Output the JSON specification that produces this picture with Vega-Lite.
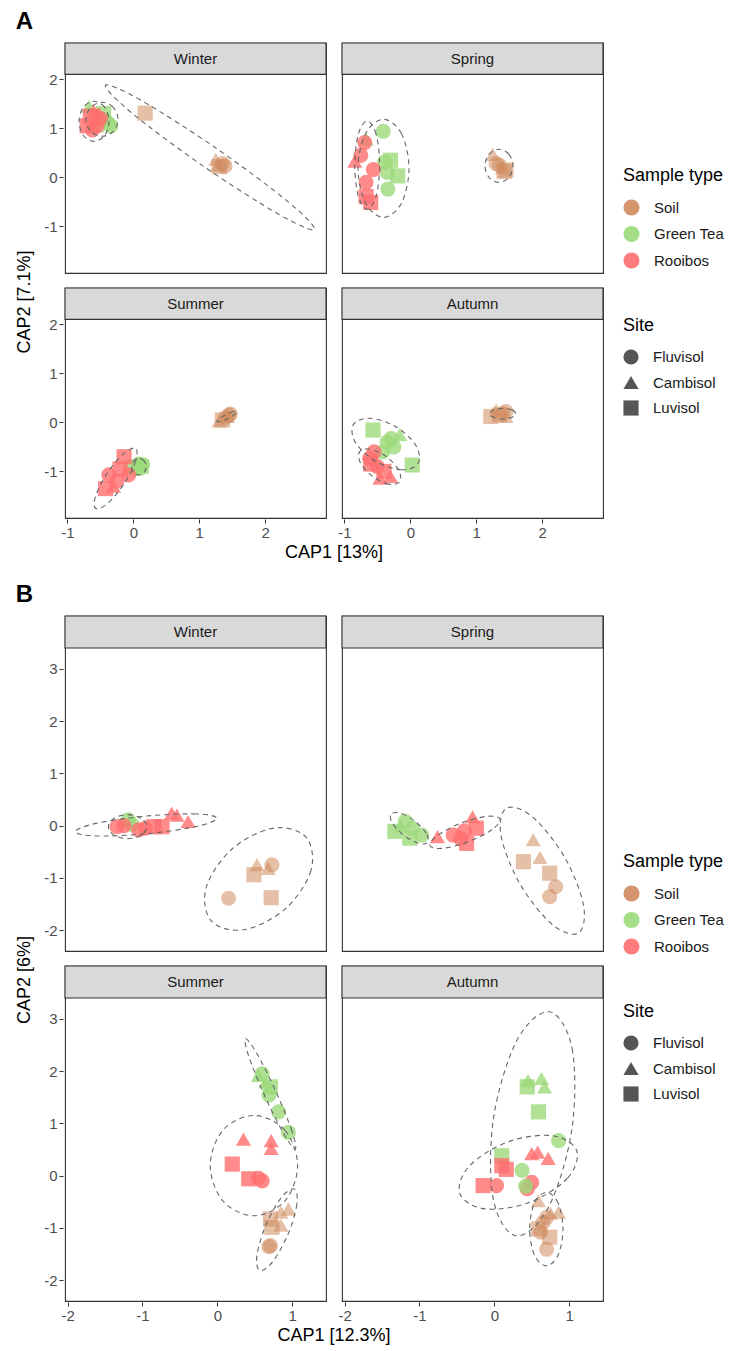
{
"$schema": "https://vega.github.io/schema/vega-lite/v6.json",
"background": "white",
"padding": {"left": 15, "top": 9, "right": 5, "bottom": 4},
"datasets": {
"a": [
{"kind":"strip","season":"Winter"},{"kind":"strip","season":"Spring"},{"kind":"strip","season":"Summer"},{"kind":"strip","season":"Autumn"},
{"kind":"pt","season":"Winter","type":"Soil","site":"Luvisol","x":0.18,"y":1.31},
{"kind":"pt","season":"Winter","type":"Soil","site":"Cambisol","x":1.25,"y":0.37},
{"kind":"pt","season":"Winter","type":"Soil","site":"Cambisol","x":1.28,"y":0.25},
{"kind":"pt","season":"Winter","type":"Soil","site":"Fluvisol","x":1.39,"y":0.23},
{"kind":"pt","season":"Winter","type":"Soil","site":"Fluvisol","x":1.35,"y":0.28},
{"kind":"pt","season":"Winter","type":"Soil","site":"Luvisol","x":1.30,"y":0.22},
{"kind":"pt","season":"Winter","type":"Green Tea","site":"Fluvisol","x":-0.34,"y":1.05},
{"kind":"pt","season":"Winter","type":"Green Tea","site":"Fluvisol","x":-0.44,"y":1.18},
{"kind":"pt","season":"Winter","type":"Green Tea","site":"Cambisol","x":-0.67,"y":1.45},
{"kind":"pt","season":"Winter","type":"Green Tea","site":"Luvisol","x":-0.45,"y":1.3},
{"kind":"pt","season":"Winter","type":"Green Tea","site":"Fluvisol","x":-0.38,"y":1.1},
{"kind":"pt","season":"Winter","type":"Green Tea","site":"Cambisol","x":-0.55,"y":1.05},
{"kind":"pt","season":"Winter","type":"Rooibos","site":"Fluvisol","x":-0.62,"y":0.97},
{"kind":"pt","season":"Winter","type":"Rooibos","site":"Fluvisol","x":-0.50,"y":1.2},
{"kind":"pt","season":"Winter","type":"Rooibos","site":"Luvisol","x":-0.65,"y":1.25},
{"kind":"pt","season":"Winter","type":"Rooibos","site":"Cambisol","x":-0.6,"y":1.35},
{"kind":"pt","season":"Winter","type":"Rooibos","site":"Luvisol","x":-0.7,"y":1.05},
{"kind":"pt","season":"Winter","type":"Rooibos","site":"Fluvisol","x":-0.55,"y":1.05},
{"kind":"pt","season":"Winter","type":"Rooibos","site":"Cambisol","x":-0.52,"y":1.3},
{"kind":"pt","season":"Spring","type":"Soil","site":"Cambisol","x":1.25,"y":0.47},
{"kind":"pt","season":"Spring","type":"Soil","site":"Fluvisol","x":1.35,"y":0.25},
{"kind":"pt","season":"Spring","type":"Soil","site":"Luvisol","x":1.45,"y":0.15},
{"kind":"pt","season":"Spring","type":"Soil","site":"Fluvisol","x":1.3,"y":0.28},
{"kind":"pt","season":"Spring","type":"Soil","site":"Cambisol","x":1.4,"y":0.2},
{"kind":"pt","season":"Spring","type":"Soil","site":"Luvisol","x":1.42,"y":0.12},
{"kind":"pt","season":"Spring","type":"Green Tea","site":"Fluvisol","x":-0.41,"y":0.94},
{"kind":"pt","season":"Spring","type":"Green Tea","site":"Fluvisol","x":-0.39,"y":0.31},
{"kind":"pt","season":"Spring","type":"Green Tea","site":"Fluvisol","x":-0.34,"y":-0.24},
{"kind":"pt","season":"Spring","type":"Green Tea","site":"Luvisol","x":-0.19,"y":0.03},
{"kind":"pt","season":"Spring","type":"Green Tea","site":"Cambisol","x":-0.67,"y":0.78},
{"kind":"pt","season":"Spring","type":"Green Tea","site":"Fluvisol","x":-0.35,"y":0.1},
{"kind":"pt","season":"Spring","type":"Green Tea","site":"Luvisol","x":-0.3,"y":0.35},
{"kind":"pt","season":"Spring","type":"Rooibos","site":"Fluvisol","x":-0.69,"y":0.71},
{"kind":"pt","season":"Spring","type":"Rooibos","site":"Cambisol","x":-0.84,"y":0.33},
{"kind":"pt","season":"Spring","type":"Rooibos","site":"Fluvisol","x":-0.56,"y":0.16},
{"kind":"pt","season":"Spring","type":"Rooibos","site":"Fluvisol","x":-0.67,"y":-0.1},
{"kind":"pt","season":"Spring","type":"Rooibos","site":"Luvisol","x":-0.67,"y":-0.39},
{"kind":"pt","season":"Spring","type":"Rooibos","site":"Luvisol","x":-0.6,"y":-0.51},
{"kind":"pt","season":"Spring","type":"Rooibos","site":"Fluvisol","x":-0.75,"y":0.45},
{"kind":"pt","season":"Summer","type":"Soil","site":"Fluvisol","x":1.47,"y":0.17},
{"kind":"pt","season":"Summer","type":"Soil","site":"Fluvisol","x":1.45,"y":0.15},
{"kind":"pt","season":"Summer","type":"Soil","site":"Cambisol","x":1.3,"y":0.03},
{"kind":"pt","season":"Summer","type":"Soil","site":"Luvisol","x":1.35,"y":0.05},
{"kind":"pt","season":"Summer","type":"Soil","site":"Fluvisol","x":1.4,"y":0.1},
{"kind":"pt","season":"Summer","type":"Soil","site":"Cambisol","x":1.43,"y":0.12},
{"kind":"pt","season":"Summer","type":"Green Tea","site":"Fluvisol","x":0.14,"y":-0.86},
{"kind":"pt","season":"Summer","type":"Green Tea","site":"Fluvisol","x":-0.04,"y":-0.9},
{"kind":"pt","season":"Summer","type":"Green Tea","site":"Fluvisol","x":0.08,"y":-0.85},
{"kind":"pt","season":"Summer","type":"Green Tea","site":"Cambisol","x":0.05,"y":-0.95},
{"kind":"pt","season":"Summer","type":"Green Tea","site":"Luvisol","x":0.12,"y":-0.9},
{"kind":"pt","season":"Summer","type":"Rooibos","site":"Luvisol","x":-0.14,"y":-0.7},
{"kind":"pt","season":"Summer","type":"Rooibos","site":"Fluvisol","x":-0.37,"y":-1.07},
{"kind":"pt","season":"Summer","type":"Rooibos","site":"Luvisol","x":-0.42,"y":-1.35},
{"kind":"pt","season":"Summer","type":"Rooibos","site":"Fluvisol","x":-0.07,"y":-1.07},
{"kind":"pt","season":"Summer","type":"Rooibos","site":"Fluvisol","x":-0.25,"y":-1.2},
{"kind":"pt","season":"Summer","type":"Rooibos","site":"Cambisol","x":-0.3,"y":-1.3},
{"kind":"pt","season":"Summer","type":"Rooibos","site":"Luvisol","x":-0.2,"y":-0.95},
{"kind":"pt","season":"Autumn","type":"Soil","site":"Luvisol","x":1.22,"y":0.12},
{"kind":"pt","season":"Autumn","type":"Soil","site":"Fluvisol","x":1.45,"y":0.22},
{"kind":"pt","season":"Autumn","type":"Soil","site":"Cambisol","x":1.3,"y":0.25},
{"kind":"pt","season":"Autumn","type":"Soil","site":"Fluvisol","x":1.4,"y":0.18},
{"kind":"pt","season":"Autumn","type":"Soil","site":"Luvisol","x":1.35,"y":0.15},
{"kind":"pt","season":"Autumn","type":"Soil","site":"Cambisol","x":1.45,"y":0.12},
{"kind":"pt","season":"Autumn","type":"Green Tea","site":"Luvisol","x":-0.565,"y":-0.156},
{"kind":"pt","season":"Autumn","type":"Green Tea","site":"Fluvisol","x":-0.29,"y":-0.33},
{"kind":"pt","season":"Autumn","type":"Green Tea","site":"Fluvisol","x":-0.42,"y":-0.6},
{"kind":"pt","season":"Autumn","type":"Green Tea","site":"Cambisol","x":-0.16,"y":-0.25},
{"kind":"pt","season":"Autumn","type":"Green Tea","site":"Fluvisol","x":-0.25,"y":-0.5},
{"kind":"pt","season":"Autumn","type":"Green Tea","site":"Luvisol","x":0.03,"y":-0.87},
{"kind":"pt","season":"Autumn","type":"Green Tea","site":"Fluvisol","x":-0.35,"y":-0.4},
{"kind":"pt","season":"Autumn","type":"Rooibos","site":"Fluvisol","x":-0.615,"y":-0.735},
{"kind":"pt","season":"Autumn","type":"Rooibos","site":"Cambisol","x":-0.46,"y":-1.14},
{"kind":"pt","season":"Autumn","type":"Rooibos","site":"Fluvisol","x":-0.5,"y":-0.9},
{"kind":"pt","season":"Autumn","type":"Rooibos","site":"Luvisol","x":-0.4,"y":-1.0},
{"kind":"pt","season":"Autumn","type":"Rooibos","site":"Fluvisol","x":-0.55,"y":-0.6},
{"kind":"pt","season":"Autumn","type":"Rooibos","site":"Cambisol","x":-0.3,"y":-1.1},
{"kind":"pt","season":"Autumn","type":"Rooibos","site":"Luvisol","x":-0.6,"y":-0.85},
{"kind":"ell","season":"Winter","type":"Soil","i":0,"x":2.745,"y":-1.061},
{"kind":"ell","season":"Winter","type":"Soil","i":1,"x":2.215,"y":-0.762},
{"kind":"ell","season":"Winter","type":"Soil","i":2,"x":1.068,"y":0.222},
{"kind":"ell","season":"Winter","type":"Soil","i":3,"x":-0.024,"y":1.315},
{"kind":"ell","season":"Winter","type":"Soil","i":4,"x":-0.421,"y":1.877},
{"kind":"ell","season":"Winter","type":"Soil","i":5,"x":0.109,"y":1.578},
{"kind":"ell","season":"Winter","type":"Soil","i":6,"x":1.256,"y":0.594},
{"kind":"ell","season":"Winter","type":"Soil","i":7,"x":2.348,"y":-0.499},
{"kind":"ell","season":"Winter","type":"Rooibos","i":0,"x":-0.368,"y":1.143},
{"kind":"ell","season":"Winter","type":"Rooibos","i":1,"x":-0.434,"y":1.432},
{"kind":"ell","season":"Winter","type":"Rooibos","i":2,"x":-0.595,"y":1.551},
{"kind":"ell","season":"Winter","type":"Rooibos","i":3,"x":-0.756,"y":1.432},
{"kind":"ell","season":"Winter","type":"Rooibos","i":4,"x":-0.822,"y":1.143},
{"kind":"ell","season":"Winter","type":"Rooibos","i":5,"x":-0.756,"y":0.854},
{"kind":"ell","season":"Winter","type":"Rooibos","i":6,"x":-0.595,"y":0.735},
{"kind":"ell","season":"Winter","type":"Rooibos","i":7,"x":-0.434,"y":0.854},
{"kind":"ell","season":"Winter","type":"Green Tea","i":0,"x":-0.232,"y":1.184},
{"kind":"ell","season":"Winter","type":"Green Tea","i":1,"x":-0.303,"y":1.429},
{"kind":"ell","season":"Winter","type":"Green Tea","i":2,"x":-0.474,"y":1.531},
{"kind":"ell","season":"Winter","type":"Green Tea","i":3,"x":-0.645,"y":1.429},
{"kind":"ell","season":"Winter","type":"Green Tea","i":4,"x":-0.716,"y":1.184},
{"kind":"ell","season":"Winter","type":"Green Tea","i":5,"x":-0.645,"y":0.939},
{"kind":"ell","season":"Winter","type":"Green Tea","i":6,"x":-0.474,"y":0.837},
{"kind":"ell","season":"Winter","type":"Green Tea","i":7,"x":-0.303,"y":0.939},
{"kind":"ell","season":"Spring","type":"Soil","i":0,"x":1.555,"y":0.235},
{"kind":"ell","season":"Spring","type":"Soil","i":1,"x":1.493,"y":0.473},
{"kind":"ell","season":"Spring","type":"Soil","i":2,"x":1.343,"y":0.572},
{"kind":"ell","season":"Spring","type":"Soil","i":3,"x":1.193,"y":0.473},
{"kind":"ell","season":"Spring","type":"Soil","i":4,"x":1.131,"y":0.235},
{"kind":"ell","season":"Spring","type":"Soil","i":5,"x":1.193,"y":-0.003},
{"kind":"ell","season":"Spring","type":"Soil","i":6,"x":1.343,"y":-0.102},
{"kind":"ell","season":"Spring","type":"Soil","i":7,"x":1.493,"y":-0.003},
{"kind":"ell","season":"Spring","type":"Green Tea","i":0,"x":-0.020,"y":0.184},
{"kind":"ell","season":"Spring","type":"Green Tea","i":1,"x":-0.133,"y":0.891},
{"kind":"ell","season":"Spring","type":"Green Tea","i":2,"x":-0.406,"y":1.184},
{"kind":"ell","season":"Spring","type":"Green Tea","i":3,"x":-0.679,"y":0.891},
{"kind":"ell","season":"Spring","type":"Green Tea","i":4,"x":-0.792,"y":0.184},
{"kind":"ell","season":"Spring","type":"Green Tea","i":5,"x":-0.679,"y":-0.523},
{"kind":"ell","season":"Spring","type":"Green Tea","i":6,"x":-0.406,"y":-0.816},
{"kind":"ell","season":"Spring","type":"Green Tea","i":7,"x":-0.133,"y":-0.523},
{"kind":"ell","season":"Spring","type":"Rooibos","i":0,"x":-0.464,"y":0.249},
{"kind":"ell","season":"Spring","type":"Rooibos","i":1,"x":-0.519,"y":0.884},
{"kind":"ell","season":"Spring","type":"Rooibos","i":2,"x":-0.653,"y":1.147},
{"kind":"ell","season":"Spring","type":"Rooibos","i":3,"x":-0.787,"y":0.884},
{"kind":"ell","season":"Spring","type":"Rooibos","i":4,"x":-0.842,"y":0.249},
{"kind":"ell","season":"Spring","type":"Rooibos","i":5,"x":-0.787,"y":-0.386},
{"kind":"ell","season":"Spring","type":"Rooibos","i":6,"x":-0.653,"y":-0.649},
{"kind":"ell","season":"Spring","type":"Rooibos","i":7,"x":-0.519,"y":-0.386},
{"kind":"ell","season":"Summer","type":"Soil","i":0,"x":1.572,"y":0.222},
{"kind":"ell","season":"Summer","type":"Soil","i":1,"x":1.517,"y":0.221},
{"kind":"ell","season":"Summer","type":"Soil","i":2,"x":1.405,"y":0.161},
{"kind":"ell","season":"Summer","type":"Soil","i":3,"x":1.302,"y":0.077},
{"kind":"ell","season":"Summer","type":"Soil","i":4,"x":1.268,"y":0.018},
{"kind":"ell","season":"Summer","type":"Soil","i":5,"x":1.323,"y":0.019},
{"kind":"ell","season":"Summer","type":"Soil","i":6,"x":1.435,"y":0.079},
{"kind":"ell","season":"Summer","type":"Soil","i":7,"x":1.538,"y":0.163},
{"kind":"ell","season":"Summer","type":"Green Tea","i":0,"x":0.196,"y":-0.904},
{"kind":"ell","season":"Summer","type":"Green Tea","i":1,"x":0.164,"y":-0.784},
{"kind":"ell","season":"Summer","type":"Green Tea","i":2,"x":0.086,"y":-0.734},
{"kind":"ell","season":"Summer","type":"Green Tea","i":3,"x":0.008,"y":-0.784},
{"kind":"ell","season":"Summer","type":"Green Tea","i":4,"x":-0.024,"y":-0.904},
{"kind":"ell","season":"Summer","type":"Green Tea","i":5,"x":0.008,"y":-1.024},
{"kind":"ell","season":"Summer","type":"Green Tea","i":6,"x":0.086,"y":-1.074},
{"kind":"ell","season":"Summer","type":"Green Tea","i":7,"x":0.164,"y":-1.024},
{"kind":"ell","season":"Summer","type":"Rooibos","i":0,"x":0.036,"y":-0.531},
{"kind":"ell","season":"Summer","type":"Rooibos","i":1,"x":0.036,"y":-0.789},
{"kind":"ell","season":"Summer","type":"Rooibos","i":2,"x":-0.141,"y":-1.255},
{"kind":"ell","season":"Summer","type":"Rooibos","i":3,"x":-0.392,"y":-1.655},
{"kind":"ell","season":"Summer","type":"Rooibos","i":4,"x":-0.570,"y":-1.755},
{"kind":"ell","season":"Summer","type":"Rooibos","i":5,"x":-0.570,"y":-1.497},
{"kind":"ell","season":"Summer","type":"Rooibos","i":6,"x":-0.393,"y":-1.031},
{"kind":"ell","season":"Summer","type":"Rooibos","i":7,"x":-0.142,"y":-0.631},
{"kind":"ell","season":"Autumn","type":"Soil","i":0,"x":1.597,"y":0.178},
{"kind":"ell","season":"Autumn","type":"Soil","i":1,"x":1.539,"y":0.254},
{"kind":"ell","season":"Autumn","type":"Soil","i":2,"x":1.4,"y":0.286},
{"kind":"ell","season":"Autumn","type":"Soil","i":3,"x":1.261,"y":0.254},
{"kind":"ell","season":"Autumn","type":"Soil","i":4,"x":1.203,"y":0.178},
{"kind":"ell","season":"Autumn","type":"Soil","i":5,"x":1.261,"y":0.102},
{"kind":"ell","season":"Autumn","type":"Soil","i":6,"x":1.4,"y":0.07},
{"kind":"ell","season":"Autumn","type":"Soil","i":7,"x":1.539,"y":0.102},
{"kind":"ell","season":"Autumn","type":"Green Tea","i":0,"x":0.119,"y":-0.833},
{"kind":"ell","season":"Autumn","type":"Green Tea","i":1,"x":-0.135,"y":-0.966},
{"kind":"ell","season":"Autumn","type":"Green Tea","i":2,"x":-0.528,"y":-0.792},
{"kind":"ell","season":"Autumn","type":"Green Tea","i":3,"x":-0.830,"y":-0.412},
{"kind":"ell","season":"Autumn","type":"Green Tea","i":4,"x":-0.865,"y":-0.049},
{"kind":"ell","season":"Autumn","type":"Green Tea","i":5,"x":-0.611,"y":0.084},
{"kind":"ell","season":"Autumn","type":"Green Tea","i":6,"x":-0.218,"y":-0.090},
{"kind":"ell","season":"Autumn","type":"Green Tea","i":7,"x":0.084,"y":-0.470},
{"kind":"ell","season":"Autumn","type":"Rooibos","i":0,"x":-0.161,"y":-1.210},
{"kind":"ell","season":"Autumn","type":"Rooibos","i":1,"x":-0.327,"y":-1.259},
{"kind":"ell","season":"Autumn","type":"Rooibos","i":2,"x":-0.573,"y":-1.100},
{"kind":"ell","season":"Autumn","type":"Rooibos","i":3,"x":-0.755,"y":-0.826},
{"kind":"ell","season":"Autumn","type":"Rooibos","i":4,"x":-0.767,"y":-0.598},
{"kind":"ell","season":"Autumn","type":"Rooibos","i":5,"x":-0.601,"y":-0.549},
{"kind":"ell","season":"Autumn","type":"Rooibos","i":6,"x":-0.355,"y":-0.708},
{"kind":"ell","season":"Autumn","type":"Rooibos","i":7,"x":-0.173,"y":-0.982}
],
"b": [
{"kind":"strip","season":"Winter"},{"kind":"strip","season":"Spring"},{"kind":"strip","season":"Summer"},{"kind":"strip","season":"Autumn"},
{"kind":"pt","season":"Winter","type":"Soil","site":"Fluvisol","x":0.73,"y":-0.75},
{"kind":"pt","season":"Winter","type":"Soil","site":"Cambisol","x":0.53,"y":-0.75},
{"kind":"pt","season":"Winter","type":"Soil","site":"Cambisol","x":0.68,"y":-0.82},
{"kind":"pt","season":"Winter","type":"Soil","site":"Luvisol","x":0.49,"y":-0.94},
{"kind":"pt","season":"Winter","type":"Soil","site":"Fluvisol","x":0.15,"y":-1.39},
{"kind":"pt","season":"Winter","type":"Soil","site":"Luvisol","x":0.72,"y":-1.38},
{"kind":"pt","season":"Winter","type":"Green Tea","site":"Fluvisol","x":-1.19,"y":0.11},
{"kind":"pt","season":"Winter","type":"Green Tea","site":"Fluvisol","x":-1.14,"y":0.02},
{"kind":"pt","season":"Winter","type":"Rooibos","site":"Fluvisol","x":-1.34,"y":-0.02},
{"kind":"pt","season":"Winter","type":"Rooibos","site":"Fluvisol","x":-0.96,"y":-0.05},
{"kind":"pt","season":"Winter","type":"Rooibos","site":"Luvisol","x":-0.74,"y":-0.02},
{"kind":"pt","season":"Winter","type":"Rooibos","site":"Cambisol","x":-0.61,"y":0.24},
{"kind":"pt","season":"Winter","type":"Rooibos","site":"Cambisol","x":-0.54,"y":0.2},
{"kind":"pt","season":"Winter","type":"Rooibos","site":"Cambisol","x":-0.39,"y":0.08},
{"kind":"pt","season":"Winter","type":"Rooibos","site":"Fluvisol","x":-1.25,"y":0.0},
{"kind":"pt","season":"Winter","type":"Rooibos","site":"Fluvisol","x":-1.05,"y":-0.08},
{"kind":"pt","season":"Winter","type":"Rooibos","site":"Luvisol","x":-0.85,"y":-0.02},
{"kind":"pt","season":"Spring","type":"Soil","site":"Cambisol","x":0.52,"y":-0.27},
{"kind":"pt","season":"Spring","type":"Soil","site":"Cambisol","x":0.61,"y":-0.61},
{"kind":"pt","season":"Spring","type":"Soil","site":"Luvisol","x":0.39,"y":-0.69},
{"kind":"pt","season":"Spring","type":"Soil","site":"Luvisol","x":0.74,"y":-0.91},
{"kind":"pt","season":"Spring","type":"Soil","site":"Fluvisol","x":0.82,"y":-1.17},
{"kind":"pt","season":"Spring","type":"Soil","site":"Fluvisol","x":0.74,"y":-1.36},
{"kind":"pt","season":"Spring","type":"Green Tea","site":"Luvisol","x":-1.33,"y":-0.11},
{"kind":"pt","season":"Spring","type":"Green Tea","site":"Fluvisol","x":-1.19,"y":0.08},
{"kind":"pt","season":"Spring","type":"Green Tea","site":"Fluvisol","x":-1.1,"y":-0.05},
{"kind":"pt","season":"Spring","type":"Green Tea","site":"Cambisol","x":-1.25,"y":0.0},
{"kind":"pt","season":"Spring","type":"Green Tea","site":"Luvisol","x":-1.13,"y":-0.24},
{"kind":"pt","season":"Spring","type":"Green Tea","site":"Fluvisol","x":-0.97,"y":-0.18},
{"kind":"pt","season":"Spring","type":"Rooibos","site":"Cambisol","x":-0.76,"y":-0.21},
{"kind":"pt","season":"Spring","type":"Rooibos","site":"Fluvisol","x":-0.55,"y":-0.18},
{"kind":"pt","season":"Spring","type":"Rooibos","site":"Fluvisol","x":-0.45,"y":-0.25},
{"kind":"pt","season":"Spring","type":"Rooibos","site":"Luvisol","x":-0.24,"y":-0.05},
{"kind":"pt","season":"Spring","type":"Rooibos","site":"Cambisol","x":-0.29,"y":0.17},
{"kind":"pt","season":"Spring","type":"Rooibos","site":"Luvisol","x":-0.37,"y":-0.34},
{"kind":"pt","season":"Spring","type":"Rooibos","site":"Fluvisol","x":-0.4,"y":-0.1},
{"kind":"pt","season":"Summer","type":"Soil","site":"Cambisol","x":0.95,"y":-0.64},
{"kind":"pt","season":"Summer","type":"Soil","site":"Cambisol","x":0.85,"y":-0.7},
{"kind":"pt","season":"Summer","type":"Soil","site":"Luvisol","x":0.71,"y":-0.83},
{"kind":"pt","season":"Summer","type":"Soil","site":"Luvisol","x":0.73,"y":-0.99},
{"kind":"pt","season":"Summer","type":"Soil","site":"Cambisol","x":0.85,"y":-0.95},
{"kind":"pt","season":"Summer","type":"Soil","site":"Fluvisol","x":0.71,"y":-1.34},
{"kind":"pt","season":"Summer","type":"Soil","site":"Fluvisol","x":0.69,"y":-1.36},
{"kind":"pt","season":"Summer","type":"Green Tea","site":"Cambisol","x":0.55,"y":1.92},
{"kind":"pt","season":"Summer","type":"Green Tea","site":"Fluvisol","x":0.6,"y":1.95},
{"kind":"pt","season":"Summer","type":"Green Tea","site":"Cambisol","x":0.65,"y":1.8},
{"kind":"pt","season":"Summer","type":"Green Tea","site":"Luvisol","x":0.71,"y":1.7},
{"kind":"pt","season":"Summer","type":"Green Tea","site":"Fluvisol","x":0.69,"y":1.54},
{"kind":"pt","season":"Summer","type":"Green Tea","site":"Fluvisol","x":0.82,"y":1.22},
{"kind":"pt","season":"Summer","type":"Green Tea","site":"Fluvisol","x":0.95,"y":0.83},
{"kind":"pt","season":"Summer","type":"Rooibos","site":"Cambisol","x":0.35,"y":0.7},
{"kind":"pt","season":"Summer","type":"Rooibos","site":"Cambisol","x":0.72,"y":0.67},
{"kind":"pt","season":"Summer","type":"Rooibos","site":"Cambisol","x":0.72,"y":0.52},
{"kind":"pt","season":"Summer","type":"Rooibos","site":"Luvisol","x":0.2,"y":0.22},
{"kind":"pt","season":"Summer","type":"Rooibos","site":"Luvisol","x":0.42,"y":-0.06},
{"kind":"pt","season":"Summer","type":"Rooibos","site":"Fluvisol","x":0.6,"y":-0.1},
{"kind":"pt","season":"Summer","type":"Rooibos","site":"Fluvisol","x":0.55,"y":-0.05},
{"kind":"pt","season":"Autumn","type":"Soil","site":"Cambisol","x":0.59,"y":-0.48},
{"kind":"pt","season":"Autumn","type":"Soil","site":"Cambisol","x":0.86,"y":-0.7},
{"kind":"pt","season":"Autumn","type":"Soil","site":"Fluvisol","x":0.7,"y":-0.8},
{"kind":"pt","season":"Autumn","type":"Soil","site":"Cambisol","x":0.75,"y":-0.72},
{"kind":"pt","season":"Autumn","type":"Soil","site":"Luvisol","x":0.59,"y":-1.02},
{"kind":"pt","season":"Autumn","type":"Soil","site":"Luvisol","x":0.74,"y":-1.18},
{"kind":"pt","season":"Autumn","type":"Soil","site":"Fluvisol","x":0.7,"y":-1.41},
{"kind":"pt","season":"Autumn","type":"Soil","site":"Fluvisol","x":0.62,"y":-1.08},
{"kind":"pt","season":"Autumn","type":"Soil","site":"Fluvisol","x":0.65,"y":-0.9},
{"kind":"pt","season":"Autumn","type":"Green Tea","site":"Cambisol","x":0.45,"y":1.82},
{"kind":"pt","season":"Autumn","type":"Green Tea","site":"Cambisol","x":0.63,"y":1.86},
{"kind":"pt","season":"Autumn","type":"Green Tea","site":"Cambisol","x":0.67,"y":1.7},
{"kind":"pt","season":"Autumn","type":"Green Tea","site":"Luvisol","x":0.44,"y":1.7},
{"kind":"pt","season":"Autumn","type":"Green Tea","site":"Luvisol","x":0.59,"y":1.22},
{"kind":"pt","season":"Autumn","type":"Green Tea","site":"Fluvisol","x":0.86,"y":0.67},
{"kind":"pt","season":"Autumn","type":"Green Tea","site":"Luvisol","x":0.1,"y":0.38},
{"kind":"pt","season":"Autumn","type":"Rooibos","site":"Cambisol","x":0.5,"y":0.42},
{"kind":"pt","season":"Autumn","type":"Rooibos","site":"Cambisol","x":0.58,"y":0.45},
{"kind":"pt","season":"Autumn","type":"Rooibos","site":"Cambisol","x":0.72,"y":0.33},
{"kind":"pt","season":"Autumn","type":"Rooibos","site":"Luvisol","x":0.1,"y":0.19},
{"kind":"pt","season":"Autumn","type":"Rooibos","site":"Luvisol","x":0.16,"y":0.12},
{"kind":"pt","season":"Autumn","type":"Rooibos","site":"Luvisol","x":-0.15,"y":-0.19},
{"kind":"pt","season":"Autumn","type":"Rooibos","site":"Fluvisol","x":0.03,"y":-0.19},
{"kind":"pt","season":"Autumn","type":"Rooibos","site":"Fluvisol","x":0.5,"y":-0.13},
{"kind":"pt","season":"Autumn","type":"Rooibos","site":"Fluvisol","x":0.44,"y":-0.25},
{"kind":"pt","season":"Autumn","type":"Green Tea","site":"Fluvisol","x":0.37,"y":0.1},
{"kind":"pt","season":"Autumn","type":"Green Tea","site":"Fluvisol","x":0.42,"y":-0.2},
{"kind":"ell","season":"Winter","type":"Rooibos","i":0,"x":-0.005,"y":0.141},
{"kind":"ell","season":"Winter","type":"Rooibos","i":1,"x":-0.282,"y":0.224},
{"kind":"ell","season":"Winter","type":"Rooibos","i":2,"x":-0.952,"y":0.183},
{"kind":"ell","season":"Winter","type":"Rooibos","i":3,"x":-1.622,"y":0.043},
{"kind":"ell","season":"Winter","type":"Rooibos","i":4,"x":-1.899,"y":-0.115},
{"kind":"ell","season":"Winter","type":"Rooibos","i":5,"x":-1.622,"y":-0.198},
{"kind":"ell","season":"Winter","type":"Rooibos","i":6,"x":-0.952,"y":-0.157},
{"kind":"ell","season":"Winter","type":"Rooibos","i":7,"x":-0.282,"y":-0.017},
{"kind":"ell","season":"Winter","type":"Green Tea","i":0,"x":-0.944,"y":-0.02},
{"kind":"ell","season":"Winter","type":"Green Tea","i":1,"x":-1.019,"y":0.143},
{"kind":"ell","season":"Winter","type":"Green Tea","i":2,"x":-1.2,"y":0.21},
{"kind":"ell","season":"Winter","type":"Green Tea","i":3,"x":-1.381,"y":0.143},
{"kind":"ell","season":"Winter","type":"Green Tea","i":4,"x":-1.456,"y":-0.02},
{"kind":"ell","season":"Winter","type":"Green Tea","i":5,"x":-1.381,"y":-0.183},
{"kind":"ell","season":"Winter","type":"Green Tea","i":6,"x":-1.2,"y":-0.25},
{"kind":"ell","season":"Winter","type":"Green Tea","i":7,"x":-1.019,"y":-0.183},
{"kind":"ell","season":"Winter","type":"Soil","i":0,"x":1.187,"y":-0.222},
{"kind":"ell","season":"Winter","type":"Soil","i":1,"x":1.251,"y":-0.864},
{"kind":"ell","season":"Winter","type":"Soil","i":2,"x":0.905,"y":-1.598},
{"kind":"ell","season":"Winter","type":"Soil","i":3,"x":0.353,"y":-1.994},
{"kind":"ell","season":"Winter","type":"Soil","i":4,"x":-0.083,"y":-1.82},
{"kind":"ell","season":"Winter","type":"Soil","i":5,"x":-0.147,"y":-1.178},
{"kind":"ell","season":"Winter","type":"Soil","i":6,"x":0.199,"y":-0.444},
{"kind":"ell","season":"Winter","type":"Soil","i":7,"x":0.751,"y":-0.048},
{"kind":"ell","season":"Spring","type":"Green Tea","i":0,"x":-0.891,"y":-0.322},
{"kind":"ell","season":"Spring","type":"Green Tea","i":1,"x":-0.91,"y":-0.146},
{"kind":"ell","season":"Spring","type":"Green Tea","i":2,"x":-1.062,"y":0.086},
{"kind":"ell","season":"Spring","type":"Green Tea","i":3,"x":-1.257,"y":0.238},
{"kind":"ell","season":"Spring","type":"Green Tea","i":4,"x":-1.381,"y":0.222},
{"kind":"ell","season":"Spring","type":"Green Tea","i":5,"x":-1.362,"y":0.046},
{"kind":"ell","season":"Spring","type":"Green Tea","i":6,"x":-1.21,"y":-0.186},
{"kind":"ell","season":"Spring","type":"Green Tea","i":7,"x":-1.015,"y":-0.338},
{"kind":"ell","season":"Spring","type":"Rooibos","i":0,"x":0.076,"y":0.127},
{"kind":"ell","season":"Spring","type":"Rooibos","i":1,"x":-0.028,"y":-0.074},
{"kind":"ell","season":"Spring","type":"Rooibos","i":2,"x":-0.345,"y":-0.307},
{"kind":"ell","season":"Spring","type":"Rooibos","i":3,"x":-0.69,"y":-0.435},
{"kind":"ell","season":"Spring","type":"Rooibos","i":4,"x":-0.86,"y":-0.383},
{"kind":"ell","season":"Spring","type":"Rooibos","i":5,"x":-0.756,"y":-0.182},
{"kind":"ell","season":"Spring","type":"Rooibos","i":6,"x":-0.439,"y":0.051},
{"kind":"ell","season":"Spring","type":"Rooibos","i":7,"x":-0.094,"y":0.179},
{"kind":"ell","season":"Spring","type":"Soil","i":0,"x":1.121,"y":-2.059},
{"kind":"ell","season":"Spring","type":"Soil","i":1,"x":1.194,"y":-1.534},
{"kind":"ell","season":"Spring","type":"Soil","i":2,"x":0.944,"y":-0.615},
{"kind":"ell","season":"Spring","type":"Soil","i":3,"x":0.517,"y":0.159},
{"kind":"ell","season":"Spring","type":"Soil","i":4,"x":0.163,"y":0.335},
{"kind":"ell","season":"Spring","type":"Soil","i":5,"x":0.09,"y":-0.19},
{"kind":"ell","season":"Spring","type":"Soil","i":6,"x":0.34,"y":-1.109},
{"kind":"ell","season":"Spring","type":"Soil","i":7,"x":0.767,"y":-1.883},
{"kind":"ell","season":"Summer","type":"Green Tea","i":0,"x":1.043,"y":0.512},
{"kind":"ell","season":"Summer","type":"Green Tea","i":1,"x":0.997,"y":0.855},
{"kind":"ell","season":"Summer","type":"Green Tea","i":2,"x":0.782,"y":1.616},
{"kind":"ell","season":"Summer","type":"Green Tea","i":3,"x":0.524,"y":2.349},
{"kind":"ell","season":"Summer","type":"Green Tea","i":4,"x":0.375,"y":2.624},
{"kind":"ell","season":"Summer","type":"Green Tea","i":5,"x":0.421,"y":2.281},
{"kind":"ell","season":"Summer","type":"Green Tea","i":6,"x":0.636,"y":1.52},
{"kind":"ell","season":"Summer","type":"Green Tea","i":7,"x":0.894,"y":0.787},
{"kind":"ell","season":"Summer","type":"Rooibos","i":0,"x":1.073,"y":0.192},
{"kind":"ell","season":"Summer","type":"Rooibos","i":1,"x":0.902,"y":0.871},
{"kind":"ell","season":"Summer","type":"Rooibos","i":2,"x":0.489,"y":1.152},
{"kind":"ell","season":"Summer","type":"Rooibos","i":3,"x":0.076,"y":0.871},
{"kind":"ell","season":"Summer","type":"Rooibos","i":4,"x":-0.095,"y":0.192},
{"kind":"ell","season":"Summer","type":"Rooibos","i":5,"x":0.076,"y":-0.487},
{"kind":"ell","season":"Summer","type":"Rooibos","i":6,"x":0.489,"y":-0.768},
{"kind":"ell","season":"Summer","type":"Rooibos","i":7,"x":0.902,"y":-0.487},
{"kind":"ell","season":"Summer","type":"Soil","i":0,"x":1.028,"y":-0.255},
{"kind":"ell","season":"Summer","type":"Soil","i":1,"x":1.064,"y":-0.547},
{"kind":"ell","season":"Summer","type":"Soil","i":2,"x":0.944,"y":-1.126},
{"kind":"ell","season":"Summer","type":"Soil","i":3,"x":0.738,"y":-1.652},
{"kind":"ell","season":"Summer","type":"Soil","i":4,"x":0.566,"y":-1.817},
{"kind":"ell","season":"Summer","type":"Soil","i":5,"x":0.53,"y":-1.525},
{"kind":"ell","season":"Summer","type":"Soil","i":6,"x":0.65,"y":-0.946},
{"kind":"ell","season":"Summer","type":"Soil","i":7,"x":0.856,"y":-0.42},
{"kind":"ell","season":"Autumn","type":"Green Tea","i":0,"x":0.736,"y":3.136},
{"kind":"ell","season":"Autumn","type":"Green Tea","i":1,"x":1.04,"y":2.429},
{"kind":"ell","season":"Autumn","type":"Green Tea","i":2,"x":1.036,"y":0.88},
{"kind":"ell","season":"Autumn","type":"Green Tea","i":3,"x":0.725,"y":-0.603},
{"kind":"ell","season":"Autumn","type":"Green Tea","i":4,"x":0.29,"y":-1.152},
{"kind":"ell","season":"Autumn","type":"Green Tea","i":5,"x":-0.014,"y":-0.445},
{"kind":"ell","season":"Autumn","type":"Green Tea","i":6,"x":-0.01,"y":1.104},
{"kind":"ell","season":"Autumn","type":"Green Tea","i":7,"x":0.301,"y":2.587},
{"kind":"ell","season":"Autumn","type":"Rooibos","i":0,"x":1.101,"y":0.481},
{"kind":"ell","season":"Autumn","type":"Rooibos","i":1,"x":0.979,"y":-0.048},
{"kind":"ell","season":"Autumn","type":"Rooibos","i":2,"x":0.471,"y":-0.511},
{"kind":"ell","season":"Autumn","type":"Rooibos","i":3,"x":-0.124,"y":-0.636},
{"kind":"ell","season":"Autumn","type":"Rooibos","i":4,"x":-0.459,"y":-0.351},
{"kind":"ell","season":"Autumn","type":"Rooibos","i":5,"x":-0.337,"y":0.178},
{"kind":"ell","season":"Autumn","type":"Rooibos","i":6,"x":0.171,"y":0.641},
{"kind":"ell","season":"Autumn","type":"Rooibos","i":7,"x":0.766,"y":0.766},
{"kind":"ell","season":"Autumn","type":"Soil","i":0,"x":0.918,"y":-1.023},
{"kind":"ell","season":"Autumn","type":"Soil","i":1,"x":0.853,"y":-0.525},
{"kind":"ell","season":"Autumn","type":"Soil","i":2,"x":0.695,"y":-0.319},
{"kind":"ell","season":"Autumn","type":"Soil","i":3,"x":0.537,"y":-0.525},
{"kind":"ell","season":"Autumn","type":"Soil","i":4,"x":0.472,"y":-1.023},
{"kind":"ell","season":"Autumn","type":"Soil","i":5,"x":0.537,"y":-1.521},
{"kind":"ell","season":"Autumn","type":"Soil","i":6,"x":0.695,"y":-1.727},
{"kind":"ell","season":"Autumn","type":"Soil","i":7,"x":0.853,"y":-1.521}
]
},
"spacing": 20,
"resolve": {"scale": {"color": "independent", "shape": "independent"}},
"vconcat": [
{
"title": {"text": "A", "anchor": "start", "fontSize": 24, "fontWeight": "bold", "color": "#000000", "offset": 8},
"resolve": {"scale": {"color": "independent", "shape": "independent"}},
"vconcat": [
{
"data": {"name": "a"},
"title": {"text": "CAP2 [7.1%]", "orient": "left", "anchor": "middle", "fontSize": 18, "fontWeight": "normal", "color": "#000000", "offset": 10},
"facet": {"field": "season", "type": "nominal", "sort": ["Winter", "Spring", "Summer", "Autumn"], "title": "CAP1 [13%]",
  "header": {"labels": false, "labelExpr": "''", "labelFontSize": 0, "labelPadding": 0, "titleOrient": "bottom", "titleFontSize": 18, "titleFontWeight": "normal", "titleColor": "#000000", "titlePadding": 4}},
"columns": 2,
"spacing": {"row": 12, "column": 12},
"spec": {
"width": 261, "height": 230,
"layer": [
{"transform": [{"filter": "datum.kind === 'strip'"}],
 "mark": {"type": "rect", "fill": "#d9d9d9", "stroke": "#333333", "strokeWidth": 1.1},
 "encoding": {"x": {"datum": -1.035, "type": "quantitative", "axis": {"title": null}}, "x2": {"datum": 2.92}, "y": {"datum": 2.1, "type": "quantitative", "axis": {"title": null}}, "y2": {"datum": 2.74}}},
{"transform": [{"filter": "datum.kind === 'strip'"}],
 "mark": {"type": "text", "fontSize": 15, "color": "#1a1a1a"},
 "encoding": {"x": {"datum": 0.9425, "type": "quantitative", "axis": {"title": null}}, "y": {"datum": 2.42, "type": "quantitative", "axis": {"title": null}}, "text": {"field": "season"}}},
{"transform": [{"filter": "datum.kind === 'pt'"}],
 "mark": {"type": "point", "filled": true, "size": 230, "strokeWidth": 0},
 "encoding": {
  "x": {"field": "x", "type": "quantitative", "scale": {"domain": [-1.035, 2.92], "nice": false, "zero": false}, "axis": {"values": [-1, 0, 1, 2], "title": null}},
  "y": {"field": "y", "type": "quantitative", "scale": {"domain": [-1.95, 2.74], "nice": false, "zero": false}, "axis": {"values": [-1, 0, 1, 2], "title": null}},
  "color": {"field": "type", "type": "nominal", "scale": {"domain": ["Soil", "Green Tea", "Rooibos"], "range": ["#D08A5C", "#9CD97A", "#FF6E6E"]},
    "legend": {"title": "Sample type", "orient": "none", "legendX": 558, "legendY": 124, "symbolType": "circle", "symbolSize": 260, "symbolOpacity": 0.9, "symbolStrokeWidth": 0}},
  "shape": {"field": "site", "type": "nominal", "scale": {"domain": ["Fluvisol", "Cambisol", "Luvisol"], "range": ["circle", "triangle-up", "square"]},
    "legend": {"title": "Site", "orient": "none", "legendX": 558, "legendY": 274, "symbolSize": 230, "symbolFillColor": "#555555", "symbolStrokeWidth": 0, "symbolOpacity": 1}},
  "opacity": {"condition": {"test": "datum.type === 'Soil'", "value": 0.55}, "value": 0.8}
 }},
{"transform": [{"filter": "datum.kind === 'ell'"}],
 "mark": {"type": "line", "interpolate": "cardinal-closed", "color": "#666666", "strokeWidth": 1.1, "strokeDash": [5, 4]},
 "encoding": {"x": {"field": "x", "type": "quantitative", "axis": {"title": null}}, "y": {"field": "y", "type": "quantitative", "axis": {"title": null}}, "detail": {"field": "type"}, "order": {"field": "i", "type": "quantitative"}}}
]
}
}
]
},
{
"title": {"text": "B", "anchor": "start", "fontSize": 24, "fontWeight": "bold", "color": "#000000", "offset": 8},
"resolve": {"scale": {"color": "independent", "shape": "independent"}},
"vconcat": [
{
"data": {"name": "b"},
"title": {"text": "CAP2 [6%]", "orient": "left", "anchor": "middle", "fontSize": 18, "fontWeight": "normal", "color": "#000000", "offset": 10},
"facet": {"field": "season", "type": "nominal", "sort": ["Winter", "Spring", "Summer", "Autumn"], "title": "CAP1 [12.3%]",
  "header": {"labels": false, "labelExpr": "''", "labelFontSize": 0, "labelPadding": 0, "titleOrient": "bottom", "titleFontSize": 18, "titleFontWeight": "normal", "titleColor": "#000000", "titlePadding": 4}},
"columns": 2,
"spacing": {"row": 12, "column": 12},
"spec": {
"width": 261, "height": 335,
"layer": [
{"transform": [{"filter": "datum.kind === 'strip'"}],
 "mark": {"type": "rect", "fill": "#d9d9d9", "stroke": "#333333", "strokeWidth": 1.1},
 "encoding": {"x": {"datum": -2.036, "type": "quantitative", "axis": {"title": null}}, "x2": {"datum": 1.453}, "y": {"datum": 3.4, "type": "quantitative", "axis": {"title": null}}, "y2": {"datum": 4.013}}},
{"transform": [{"filter": "datum.kind === 'strip'"}],
 "mark": {"type": "text", "fontSize": 15, "color": "#1a1a1a"},
 "encoding": {"x": {"datum": -0.2915, "type": "quantitative", "axis": {"title": null}}, "y": {"datum": 3.706, "type": "quantitative", "axis": {"title": null}}, "text": {"field": "season"}}},
{"transform": [{"filter": "datum.kind === 'pt'"}],
 "mark": {"type": "point", "filled": true, "size": 230, "strokeWidth": 0},
 "encoding": {
  "x": {"field": "x", "type": "quantitative", "scale": {"domain": [-2.036, 1.453], "nice": false, "zero": false}, "axis": {"values": [-2, -1, 0, 1], "title": null}},
  "y": {"field": "y", "type": "quantitative", "scale": {"domain": [-2.4, 4.013], "nice": false, "zero": false}, "axis": {"values": [-2, -1, 0, 1, 2, 3], "title": null}},
  "color": {"field": "type", "type": "nominal", "scale": {"domain": ["Soil", "Green Tea", "Rooibos"], "range": ["#D08A5C", "#9CD97A", "#FF6E6E"]},
    "legend": {"title": "Sample type", "orient": "none", "legendX": 558, "legendY": 237, "symbolType": "circle", "symbolSize": 260, "symbolOpacity": 0.9, "symbolStrokeWidth": 0}},
  "shape": {"field": "site", "type": "nominal", "scale": {"domain": ["Fluvisol", "Cambisol", "Luvisol"], "range": ["circle", "triangle-up", "square"]},
    "legend": {"title": "Site", "orient": "none", "legendX": 558, "legendY": 387, "symbolSize": 230, "symbolFillColor": "#555555", "symbolStrokeWidth": 0, "symbolOpacity": 1}},
  "opacity": {"condition": {"test": "datum.type === 'Soil'", "value": 0.55}, "value": 0.8}
 }},
{"transform": [{"filter": "datum.kind === 'ell'"}],
 "mark": {"type": "line", "interpolate": "cardinal-closed", "color": "#666666", "strokeWidth": 1.1, "strokeDash": [5, 4]},
 "encoding": {"x": {"field": "x", "type": "quantitative", "axis": {"title": null}}, "y": {"field": "y", "type": "quantitative", "axis": {"title": null}}, "detail": {"field": "type"}, "order": {"field": "i", "type": "quantitative"}}}
]
}
}
]
}
],
"config": {
 "font": "Liberation Sans",
 "view": {"stroke": "#333333", "strokeWidth": 1.1},
 "mark": {"color": "#555555"},
 "header": {"labels": false},
 "axis": {"domain": false, "grid": false, "tickColor": "#333333", "tickSize": 4, "tickWidth": 1, "labelColor": "#4d4d4d", "labelFontSize": 15, "labelPadding": 2, "labelFlush": false, "labelExpr": "datum.value < 0 ? '-' + abs(datum.value) : '' + datum.value"},
 "legend": {"titleFontSize": 18, "titleFontWeight": "normal", "titleColor": "#000000", "labelFontSize": 15, "labelColor": "#1a1a1a", "rowPadding": 9.5, "titlePadding": 14, "labelOffset": 14, "padding": 0}
}
}
